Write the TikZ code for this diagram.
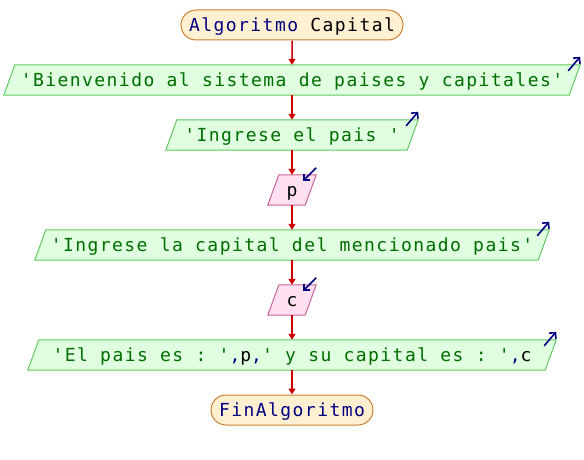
\documentclass[tikz,border=0pt]{standalone}
\usepackage{fontspec}
\setmonofont[LetterSpace=8]{DejaVu Sans Mono}
\usetikzlibrary{arrows.meta,backgrounds,shapes.misc}
\definecolor{termF}{RGB}{255,240,210}
\definecolor{termB}{RGB}{200,130,50}
\definecolor{outF}{RGB}{224,255,224}
\definecolor{outB}{RGB}{100,200,100}
\definecolor{outT}{RGB}{0,110,0}
\definecolor{inF}{RGB}{255,224,240}
\definecolor{inB}{RGB}{200,100,150}
\definecolor{navyC}{RGB}{0,0,128}
\definecolor{flowR}{RGB}{204,0,0}
\newcommand\pgram[3]{\begin{pgfonlayer}{background}\filldraw[fill=#2,draw=#3,line width=1pt] ([xshift=-5.5pt]#1.south west) -- ([xshift=5.5pt]#1.north west) -- ([xshift=5.5pt]#1.north east) -- ([xshift=-5.5pt]#1.south east) -- cycle;\end{pgfonlayer}}
\begin{document}
\begin{tikzpicture}[x=1pt,y=-1pt, font=\ttfamily\fontsize{18}{20}\selectfont,
 every node/.style={text height=13.5pt, text depth=0.5pt},
 term/.style={rounded rectangle, draw=termB, fill=termF, line width=1pt, minimum height=30pt, inner sep=0pt, text=navyC},
 box/.style={inner sep=0pt, minimum height=30pt},
 flow/.style={draw=flowR, line width=1.5pt, -{Triangle[length=6pt,width=7pt]}},
 io/.style={draw=navyC, line width=1.6pt, -{Straight Barb[length=4.5pt,width=9pt]}}]
\useasboundingbox (0,0) rectangle (584,460);
\node[term, minimum width=222pt] (start) at (292,25) {Algoritmo \textcolor{black}{Capital}};
\node[box, minimum width=565pt, text=outT] (o1) at (292,80) {'Bienvenido al sistema de paises y capitales'};
\node[box, minimum width=241pt, text=outT] (o2) at (292,135) {'Ingrese el pais '};
\node[box, minimum width=37pt, text=black] (p) at (292,190) {p};
\node[box, minimum width=503pt, text=outT] (o3) at (292,245) {'Ingrese la capital del mencionado pais'};
\node[box, minimum width=37pt, text=black] (c) at (292,300) {c};
\node[box, minimum width=517pt, text=outT] (o4) at (292,355) {'El pais es : '\textcolor{navyC}{,}\textcolor{black}{p}\textcolor{navyC}{,}' y su capital es : '\textcolor{navyC}{,}\textcolor{black}{c}};
\node[term, minimum width=162pt] (fin) at (292,410) {FinAlgoritmo};
\pgram{o1}{outF}{outB}
\pgram{o2}{outF}{outB}
\pgram{o3}{outF}{outB}
\pgram{o4}{outF}{outB}
\pgram{p}{inF}{inB}
\pgram{c}{inF}{inB}
\draw[flow] (start) -- (o1);
\draw[flow] (o1) -- (o2);
\draw[flow] (o2) -- (p);
\draw[flow] (p) -- (o3);
\draw[flow] (o3) -- (c);
\draw[flow] (c) -- (o4);
\draw[flow] (o4) -- (fin);
\foreach \n in {o1,o2,o3,o4}{
  \draw[io] ([shift={(-6.5pt,-6pt)}]\n.north east) -- ([shift={(5.5pt,8pt)}]\n.north east);
}
\foreach \n in {p,c}{
  \draw[io] ([shift={(5.5pt,7pt)}]\n.north east) -- ([shift={(-7.5pt,-6pt)}]\n.north east);
}
\end{tikzpicture}
\end{document}
